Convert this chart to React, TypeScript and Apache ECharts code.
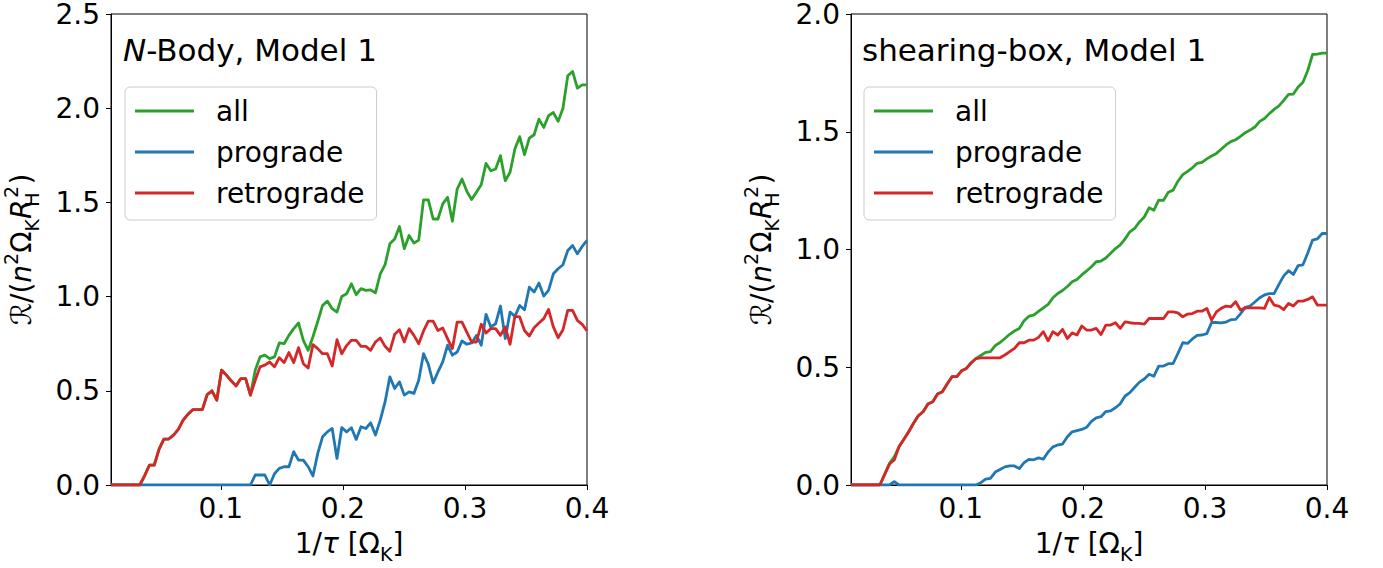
import React, { useEffect, useRef } from "react";
import * as echarts from "echarts";

// ---- data ----
const X_START = 0.01;
const X_END = 0.4;
const N_POINTS = 100;
const tauInv: number[] = Array.from({ length: N_POINTS }, (_, i) =>
  +(X_START + ((X_END - X_START) * i) / (N_POINTS - 1)).toFixed(5)
);

const xTicks = [0.1, 0.2, 0.3, 0.4];
const seriesNames = ["all", "prograde", "retrograde"];
const seriesColors = ["#2ca02c", "#1f77b4", "#d62728"];
const panelTitles = ["N-Body, Model 1", "shearing-box, Model 1"];
const yMaxes = [2.5, 2.0];

// N-Body, Model 1
const nbAll = [
  0, 0, 0, 0, 0, 0, 0, 0.05, 0.106, 0.106,
  0.19, 0.244, 0.244, 0.265, 0.295, 0.344, 0.375, 0.4, 0.4, 0.4,
  0.48, 0.5, 0.45, 0.61, 0.583, 0.553, 0.526, 0.565, 0.565, 0.477,
  0.609, 0.68, 0.689, 0.671, 0.68, 0.754, 0.75, 0.794, 0.83, 0.86,
  0.768, 0.715, 0.787, 0.868, 0.953, 0.976, 0.936, 0.918, 1.001, 1.015,
  1.068, 1.01, 1.042, 1.033, 1.036, 1.02, 1.121, 1.17, 1.28, 1.306,
  1.372, 1.254, 1.324, 1.284, 1.3, 1.513, 1.513, 1.412, 1.412, 1.492,
  1.527, 1.4, 1.571, 1.624, 1.559, 1.515, 1.554, 1.594, 1.707, 1.668,
  1.677, 1.748, 1.615, 1.66, 1.783, 1.849, 1.753, 1.841, 1.859, 1.942,
  1.898, 1.96, 1.977, 1.93, 2.0, 2.172, 2.195, 2.106, 2.124, 2.124,
];
const nbPro = [
  0, 0, 0, 0, 0, 0, 0, 0, 0, 0,
  0, 0, 0, 0, 0, 0, 0, 0, 0, 0,
  0, 0, 0, 0, 0, 0, 0, 0, 0, 0,
  0.053, 0.053, 0.053, 0.0, 0.06, 0.088, 0.097, 0.097, 0.177, 0.132,
  0.132, 0.097, 0.048, 0.168, 0.256, 0.282, 0.3, 0.141, 0.305, 0.282,
  0.304, 0.242, 0.309, 0.3, 0.33, 0.265, 0.344, 0.441, 0.574, 0.512,
  0.547, 0.477, 0.494, 0.486, 0.556, 0.697, 0.641, 0.542, 0.6, 0.653,
  0.742, 0.689, 0.706, 0.765, 0.747, 0.754, 0.794, 0.742, 0.906, 0.839,
  0.856, 0.95, 0.777, 0.918, 0.895, 0.953, 0.93, 1.05, 1.024, 1.072,
  1.003, 1.033, 1.121, 1.148, 1.169, 1.245, 1.271, 1.227, 1.266, 1.298,
];
const nbRetro = [
  0, 0, 0, 0, 0, 0, 0, 0.05, 0.106, 0.106,
  0.19, 0.244, 0.244, 0.265, 0.295, 0.344, 0.375, 0.4, 0.4, 0.4,
  0.48, 0.5, 0.45, 0.61, 0.583, 0.553, 0.526, 0.565, 0.565, 0.477,
  0.556, 0.627, 0.636, 0.653, 0.627, 0.676, 0.65, 0.703, 0.65, 0.729,
  0.644, 0.621, 0.745, 0.724, 0.697, 0.697, 0.632, 0.771, 0.697, 0.74,
  0.768, 0.768, 0.736, 0.736, 0.715, 0.759, 0.78, 0.736, 0.71, 0.8,
  0.824, 0.759, 0.83, 0.794, 0.75, 0.818, 0.87, 0.87, 0.82, 0.833,
  0.777, 0.724, 0.865, 0.865, 0.812, 0.759, 0.759, 0.853, 0.807, 0.83,
  0.83, 0.794, 0.839, 0.747, 0.895, 0.892, 0.82, 0.791, 0.835, 0.86,
  0.883, 0.932, 0.839, 0.782, 0.824, 0.927, 0.927, 0.874, 0.853, 0.818,
];

// shearing-box, Model 1
const sbAll = [
  0, 0, 0, 0, 0, 0, 0, 0.045, 0.092, 0.12,
  0.163, 0.194, 0.226, 0.262, 0.294, 0.311, 0.344, 0.354, 0.386, 0.396,
  0.429, 0.46, 0.46, 0.485, 0.495, 0.519, 0.537, 0.55, 0.563, 0.566,
  0.592, 0.605, 0.622, 0.64, 0.654, 0.665, 0.697, 0.717, 0.721, 0.737,
  0.752, 0.767, 0.795, 0.813, 0.826, 0.843, 0.863, 0.873, 0.892, 0.909,
  0.927, 0.948, 0.951, 0.964, 0.984, 1.004, 1.02, 1.045, 1.075, 1.09,
  1.117, 1.138, 1.177, 1.167, 1.21, 1.209, 1.243, 1.252, 1.29, 1.318,
  1.332, 1.347, 1.366, 1.37, 1.385, 1.397, 1.408, 1.426, 1.444, 1.458,
  1.466, 1.48, 1.496, 1.507, 1.52, 1.544, 1.556, 1.577, 1.595, 1.61,
  1.633, 1.659, 1.66, 1.69, 1.71, 1.76, 1.828, 1.83, 1.834, 1.834,
];
const sbPro = [
  0, 0, 0, 0, 0, 0, 0, 0, 0, 0.014,
  0, 0, 0, 0, 0, 0, 0, 0, 0, 0,
  0, 0, 0, 0, 0, 0, 0, 0.01, 0.025, 0.028,
  0.055, 0.066, 0.077, 0.081, 0.081, 0.07, 0.095, 0.109, 0.107, 0.115,
  0.11, 0.14, 0.162, 0.17, 0.174, 0.205, 0.226, 0.231, 0.236, 0.245,
  0.27, 0.285, 0.29, 0.312, 0.315, 0.328, 0.345, 0.378, 0.392, 0.415,
  0.437, 0.45, 0.47, 0.462, 0.505, 0.505, 0.515, 0.516, 0.559, 0.604,
  0.601, 0.62, 0.635, 0.637, 0.643, 0.69, 0.69, 0.688, 0.692, 0.702,
  0.703, 0.727, 0.754, 0.76, 0.777, 0.795, 0.807, 0.813, 0.813, 0.852,
  0.888, 0.91, 0.894, 0.932, 0.935, 0.985, 1.04, 1.045, 1.068, 1.068,
];
const sbRetro = [
  0, 0, 0, 0, 0, 0, 0, 0.045, 0.089, 0.106,
  0.163, 0.194, 0.226, 0.262, 0.294, 0.311, 0.344, 0.354, 0.386, 0.396,
  0.429, 0.46, 0.46, 0.485, 0.495, 0.519, 0.537, 0.54, 0.54, 0.54,
  0.54, 0.54, 0.552, 0.566, 0.58, 0.604, 0.604, 0.615, 0.615, 0.627,
  0.651, 0.612, 0.651, 0.637, 0.661, 0.622, 0.646, 0.637, 0.675, 0.658,
  0.658, 0.665, 0.639, 0.679, 0.679, 0.689, 0.665, 0.693, 0.689, 0.686,
  0.686, 0.683, 0.707, 0.707, 0.707, 0.707, 0.735, 0.735, 0.731, 0.714,
  0.726, 0.728, 0.738, 0.738, 0.75, 0.7, 0.735, 0.75, 0.76, 0.757,
  0.778, 0.743, 0.752, 0.752, 0.752, 0.752, 0.75, 0.796, 0.764, 0.76,
  0.745, 0.771, 0.76, 0.781, 0.781, 0.788, 0.799, 0.764, 0.764, 0.764,
];

const panelData = [
  [nbAll, nbPro, nbRetro],
  [sbAll, sbPro, sbRetro],
];

// ---- layout ----
const FONT = "DejaVu Sans";
const FS = 28;
const TITLE_FS = 31;
const GRID_LEFTS = [111, 851];
const GRID_TOP = 13;
const GRID_W = 476;
const GRID_H = 472;

const richName = {
  base: { fontFamily: FONT, fontSize: FS, color: "#000", lineHeight: 40 },
  s: { fontFamily: FONT, fontSize: FS, color: "#000", lineHeight: 40 },
  i: { fontFamily: FONT, fontSize: FS, fontStyle: "italic", color: "#000", lineHeight: 40 },
  sup: { fontFamily: FONT, fontSize: 19, color: "#000", lineHeight: 19, verticalAlign: "top" },
  sub: { fontFamily: FONT, fontSize: 19, color: "#000", lineHeight: 19, verticalAlign: "bottom" },
  hs: { fontFamily: FONT, fontSize: 19, color: "#000", lineHeight: 19, verticalAlign: "bottom", width: 0.01 },
  hp: { fontFamily: FONT, fontSize: 19, color: "#000", lineHeight: 19, verticalAlign: "top", width: 15 },
};

function buildOption() {
  const grid = GRID_LEFTS.map((left) => ({
    left,
    top: GRID_TOP,
    width: GRID_W,
    height: GRID_H,
    show: true,
    borderColor: "#000",
    borderWidth: 1,
    backgroundColor: "transparent",
  }));

  const xAxis = [0, 1].map((g) => ({
    type: "value",
    gridIndex: g,
    min: X_START,
    max: X_END,
    name: "{base|1/}{i|τ}{base| [Ω}{sub|K}{base|]}",
    nameLocation: "middle",
    nameGap: 38,
    nameTextStyle: { fontFamily: FONT, fontSize: FS, color: "#000", rich: richName },
    axisLine: { show: true, onZero: false, lineStyle: { color: "#000", width: 1 } },
    axisTick: { show: true, inside: false, length: 5, customValues: xTicks, lineStyle: { color: "#000", width: 1 } },
    axisLabel: {
      customValues: xTicks,
      margin: 9,
      fontFamily: FONT,
      fontSize: FS,
      color: "#000",
      formatter: (v: number) => v.toFixed(1),
    },
    splitLine: { show: false },
  }));

  const yAxis = [0, 1].map((g) => ({
    type: "value",
    gridIndex: g,
    min: 0,
    max: yMaxes[g],
    interval: 0.5,
    name: "{s|ℛ}{base|/(}{i|n}{sup|2}{base|Ω}{sub|K}{i|R}{hs|H}{hp|2}{base|)}",
    nameLocation: "middle",
    nameRotate: 90,
    nameGap: 70,
    nameTextStyle: { fontFamily: FONT, fontSize: FS, color: "#000", rich: richName },
    axisLine: { show: true, onZero: false, lineStyle: { color: "#000", width: 1 } },
    axisTick: { show: true, inside: false, length: 5, lineStyle: { color: "#000", width: 1 } },
    axisLabel: {
      margin: 11,
      fontFamily: FONT,
      fontSize: FS,
      lineHeight: 22,
      color: "#000",
      formatter: (v: number) => v.toFixed(1),
    },
    splitLine: { show: false },
  }));

  const series: any[] = [];
  [0, 1].forEach((g) => {
    seriesNames.forEach((name, k) => {
      const vals = panelData[g][k];
      series.push({
        type: "line",
        name,
        xAxisIndex: g,
        yAxisIndex: g,
        data: tauInv.map((x, i) => [x, vals[i]]),
        showSymbol: false,
        symbol: "none",
        clip: true,
        lineStyle: { color: seriesColors[k], width: 2.8, join: "round" },
        itemStyle: { color: seriesColors[k] },
        emphasis: { disabled: true },
        z: 2 + k,
      });
    });
  });

  const legend = [125, 864].map((left) => ({
    left,
    top: 87,
    orient: "vertical",
    icon: "rect",
    itemWidth: 59,
    itemHeight: 3,
    itemGap: 11,
    padding: [9, 12, 12, 10],
    borderColor: "#cccccc",
    borderWidth: 1,
    borderRadius: 5,
    backgroundColor: "rgba(255,255,255,0.8)",
    selectedMode: false,
    textStyle: {
      fontFamily: FONT,
      fontSize: FS,
      color: "#000",
      lineHeight: 30,
      padding: [0, 0, 0, 17],
    },
    data: seriesNames,
  }));

  const graphic = [
    {
      type: "text",
      x: 123,
      y: 50,
      z: 10,
      style: {
        text: "{i|N}{b|-Body, Model 1}",
        verticalAlign: "middle",
        fill: "#000",
        font: `${TITLE_FS}px ${FONT}`,
        rich: {
          i: { fontFamily: FONT, fontSize: TITLE_FS, fontStyle: "italic", fill: "#000" },
          b: { fontFamily: FONT, fontSize: TITLE_FS, fill: "#000" },
        },
      },
    },
    {
      type: "text",
      x: 862,
      y: 50,
      z: 10,
      style: {
        text: panelTitles[1],
        verticalAlign: "middle",
        fill: "#000",
        fontFamily: FONT,
        fontSize: TITLE_FS,
      },
    },
  ];

  return {
    animation: false,
    backgroundColor: "#fff",
    grid,
    xAxis,
    yAxis,
    series,
    legend,
    graphic,
  };
}

export default function App() {
  const ref = useRef<HTMLDivElement>(null);
  useEffect(() => {
    document.body.style.margin = "0";
    const chart = echarts.init(ref.current as HTMLDivElement, null, { renderer: "svg" });
    chart.setOption(buildOption() as any);
    return () => chart.dispose();
  }, []);
  return <div ref={ref} style={{ width: 1383, height: 568 }} />;
}
